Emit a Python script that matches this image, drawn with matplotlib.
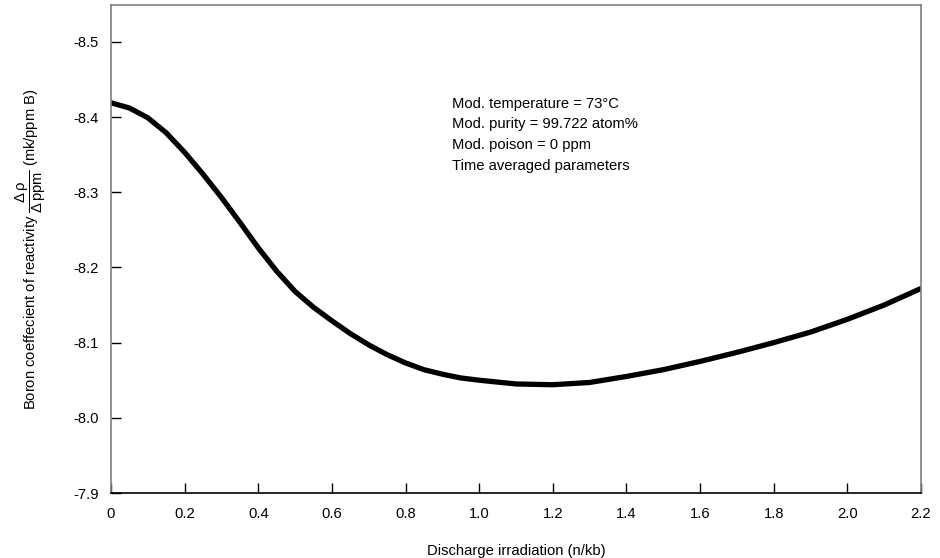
import matplotlib
matplotlib.use('Agg')
import matplotlib.pyplot as plt

plt.rcParams['font.family'] = ['Liberation Sans', 'DejaVu Sans']
plt.rcParams['mathtext.fontset'] = 'custom'
plt.rcParams['mathtext.rm'] = 'Liberation Sans'
plt.rcParams['mathtext.it'] = 'Liberation Sans'

# values
irradiation = [0.0, 0.05, 0.1, 0.15, 0.2, 0.25, 0.3, 0.35, 0.4, 0.45, 0.5,
               0.55, 0.6, 0.65, 0.7, 0.75, 0.8, 0.85, 0.9, 0.95, 1.0,
               1.1, 1.2, 1.3, 1.4, 1.5, 1.6, 1.7, 1.8, 1.9, 2.0, 2.1, 2.2]
boron_coef = [-8.419, -8.412, -8.399, -8.379, -8.353, -8.324, -8.293, -8.260,
              -8.226, -8.195, -8.168, -8.147, -8.129, -8.112, -8.097, -8.084,
              -8.073, -8.064, -8.058, -8.053, -8.050,
              -8.045, -8.044, -8.047, -8.055, -8.064, -8.075, -8.087, -8.100,
              -8.114, -8.131, -8.150, -8.172]

xticks = [0, 0.2, 0.4, 0.6, 0.8, 1.0, 1.2, 1.4, 1.6, 1.8, 2.0, 2.2]
xticklabels = ['0', '0.2', '0.4', '0.6', '0.8', '1.0', '1.2', '1.4', '1.6', '1.8', '2.0', '2.2']
yticks = [-8.5, -8.4, -8.3, -8.2, -8.1, -8.0, -7.9]
yticklabels = ['-8.5', '-8.4', '-8.3', '-8.2', '-8.1', '-8.0', '-7.9']
notes = ['Mod. temperature = 73\u00b0C', 'Mod. purity = 99.722 atom%',
         'Mod. poison = 0 ppm', 'Time averaged parameters']

fs = 10.6
fig = plt.figure(figsize=(9.4, 5.58), dpi=100)
ax = fig.add_axes([111/940, 1-493/558, 810/940, 488/558])

ax.plot(irradiation, boron_coef, color='black', lw=3.8,
        solid_capstyle='round', solid_joinstyle='round')

ax.set_xlim(0, 2.2)
ax.set_ylim(-7.9, -8.549)
ax.set_xticks(xticks)
ax.set_xticklabels(xticklabels)
ax.set_yticks(yticks)
ax.set_yticklabels(yticklabels)
ax.tick_params(direction='in', length=7, width=1, labelsize=fs, color='black')
ax.tick_params(axis='x', pad=10)
ax.tick_params(axis='y', pad=9)

for s in ['left', 'top', 'right']:
    ax.spines[s].set_color('#808080')
    ax.spines[s].set_linewidth(1.2)
ax.spines['bottom'].set_color('black')
ax.spines['bottom'].set_linewidth(1.2)

ax.set_xlabel('Discharge irradiation (n/kb)', fontsize=fs, labelpad=17)
ax.set_ylabel(r'Boron coeffecient of reactivity $\dfrac{\Delta\,\rho}{\Delta\,\mathrm{ppm}}$ (mk/ppm B)',
              fontsize=fs, labelpad=18)

ax.text(0.421, 0.812, '\n'.join(notes), transform=ax.transAxes, fontsize=fs,
        va='top', ha='left', linespacing=1.6)

fig.savefig('out.png', dpi=100)
